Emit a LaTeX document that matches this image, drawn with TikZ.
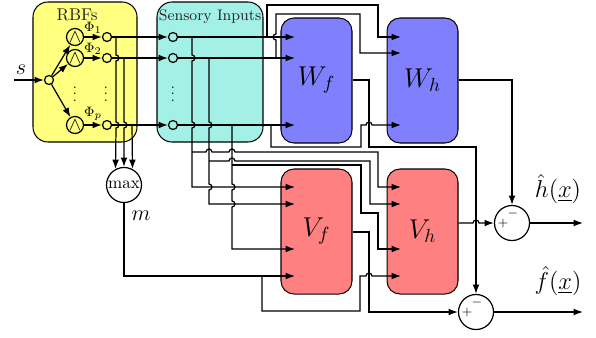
\RequirePackage{fix-cm}
\documentclass[tikz,border=0pt]{standalone}
\usetikzlibrary{arrows.meta}
\definecolor{rbfyel}{RGB}{255,255,128}
\definecolor{senscy}{RGB}{163,240,230}
\definecolor{wblue}{RGB}{128,128,255}
\definecolor{vred}{RGB}{255,128,128}
\begin{document}
\begin{tikzpicture}[x=0.58824pt,y=-0.58824pt, line width=0.72pt,
  >={Latex[length=5.5pt,width=4pt]},
  panel/.style={draw, line width=0.6pt, rounded corners=8.8pt, inner sep=0pt},
  block/.style={draw, line width=0.6pt, rounded corners=7.6pt, minimum width=41.76pt, minimum height=73.53pt, inner sep=0pt, font=\fontsize{16}{16}\selectfont},
  smallc/.style={circle, draw, minimum size=5.3pt, inner sep=0pt},
  lamc/.style={circle, draw, minimum size=10pt, inner sep=0pt, font=\fontsize{11}{11}\selectfont},
  bigc/.style={circle, draw, minimum size=20.6pt, inner sep=0pt},
  lbl/.style={inner sep=0pt},
  philbl/.style={inner sep=0pt, font=\fontsize{8}{8}\selectfont},
  sgn/.style={inner sep=0pt, font=\fontsize{7}{7}\selectfont},
  vdot/.style={inner sep=0pt, font=\fontsize{8}{8}\selectfont}
]
\useasboundingbox (0,0) rectangle (596,337);

% panels
\node[panel, fill=rbfyel, minimum width=61.18pt, minimum height=82.35pt] (rbf) at (85,72) {};
\node[panel, fill=senscy, minimum width=62.35pt, minimum height=82.35pt] (sens) at (210,72) {};
\node[lbl, text=black!85, font=\fontsize{10}{10}\selectfont] (rbft) at (77,15) {RBFs};
\node[lbl, text=black!85, font=\fontsize{9}{9}\selectfont] (senst) at (210,17) {Sensory Inputs};

% blocks
\node[block, fill=wblue] (Wf) at (316.5,80.5) {$W_f$};
\node[block, fill=wblue] (Wh) at (422.5,80.5) {$W_h$};
\node[block, fill=vred] (Vf) at (316.5,231.5) {$V_f$};
\node[block, fill=vred] (Vh) at (422.5,231.5) {$V_h$};

% circles
\node[smallc] (sn) at (49,80) {};
\node[lamc] (l1) at (75,37) {$\wedge$};
\node[lamc] (l2) at (75,58) {$\wedge$};
\node[lamc] (l3) at (75,125) {$\wedge$};
\node[smallc] (o1) at (107,37) {};
\node[smallc] (o2) at (107,58) {};
\node[smallc] (o3) at (107,125) {};
\node[smallc] (i1) at (173,37) {};
\node[smallc] (i2) at (173,58) {};
\node[smallc] (i3) at (173,125) {};
\node[bigc, font=\fontsize{10}{10}\selectfont] (mx) at (124,185) {max};
\node[bigc] (hs) at (512,223) {};
\node[bigc] (fs) at (476,312) {};
\node[sgn] (hsp) at (503,224) {$+$};
\node[sgn] (hsm) at (513,214) {$-$};
\node[sgn] (fsp) at (467,313) {$+$};
\node[sgn] (fsm) at (477,303) {$-$};

% labels
\node[philbl] (p1) at (93,28) {$\Phi_1$};
\node[philbl] (p2) at (93,49) {$\Phi_2$};
\node[philbl] (pp) at (93,114) {$\Phi_p$};
\node[vdot] (d1) at (75,89) {$\vdots$};
\node[vdot] (d2) at (106,89) {$\vdots$};
\node[vdot] (d3) at (173,89) {$\vdots$};
\node[lbl, font=\fontsize{13}{13}\selectfont] (slbl) at (21,70) {$s$};
\node[lbl, font=\fontsize{13}{13}\selectfont] (mlbl) at (141,216) {$m$};
\node[lbl, font=\fontsize{14.4}{14.4}\selectfont] (hlbl) at (558,189) {$\hat{h}(\underline{x})$};
\node[lbl, font=\fontsize{14.4}{14.4}\selectfont] (flbl) at (558,281) {$\hat{f}(\underline{x})$};

% port coordinates
\coordinate (sin) at (14,80);
\coordinate (wf1) at (295,37);
\coordinate (wf2) at (295,58);
\coordinate (wf3) at (295,125);
\coordinate (wh1) at (401,37);
\coordinate (wh2) at (401,53);
\coordinate (wh3) at (401,125);
\coordinate (vf1) at (295,187);
\coordinate (vf2) at (295,204);
\coordinate (vf3) at (295,249);
\coordinate (vf4) at (295,276);
\coordinate (vh1) at (401,187);
\coordinate (vh2) at (401,204);
\coordinate (vh3) at (401,249);
\coordinate (vh4) at (401,276);
\coordinate (hout) at (583,223);
\coordinate (fout) at (583,312);

% RBF part
\draw[->] (sin) -- (sn);
\draw[->] (sn) -- (l1);
\draw[->] (sn) -- (l2);
\draw[->] (sn) -- (l3);
\draw[->] (l1) -- (o1);
\draw[->] (l2) -- (o2);
\draw[->] (l3) -- (o3);
\draw[->] (o1) -- (i1);
\draw[->] (o2) -- (i2);
\draw[->] (o3) -- (i3);
\draw[->] (116,37) -- (116,55) arc[start angle=90,end angle=-90,radius=1.76pt] -- (116,122) arc[start angle=90,end angle=-90,radius=1.76pt] -- (mx.118);
\draw[->] (124,58) -- (124,122) arc[start angle=90,end angle=-90,radius=1.76pt] -- (mx.90);
\draw[->] (132,125) -- (mx.62);

% sensory to W
\draw[->] (i1) -- (wf1);
\draw[->] (i2) -- (wf2);
\draw[->] (i3) -- (wf3);
\draw[->] (267,37) -- (267,5) -- (378,5) -- (378,37) -- (wh1);
\draw[->] (276,58) -- (276,40) arc[start angle=-90,end angle=-270,radius=1.76pt] -- (276,14) -- (360,14) -- (360,53) -- (wh2);
\draw[->] (271,125) -- (271,147) -- (361,147) -- (361,125) -- (366,125) arc[start angle=180,end angle=0,radius=1.76pt] -- (wh3);

% sensory verticals to V
\draw[->] (192,37) -- (192,55) arc[start angle=90,end angle=-90,radius=1.76pt] -- (192,122) arc[start angle=90,end angle=-90,radius=1.76pt] -- (192,187) -- (vf1);
\draw[->] (192,152) -- (206,152) arc[start angle=180,end angle=0,radius=1.76pt] -- (229,152) arc[start angle=180,end angle=0,radius=1.76pt] -- (378,152) -- (378,187) -- (vh1);
\draw[->] (209,58) -- (209,122) arc[start angle=90,end angle=-90,radius=1.76pt] -- (209,184) arc[start angle=90,end angle=-90,radius=1.76pt] -- (209,204) -- (vf2);
\draw[->] (209,161) -- (229,161) arc[start angle=180,end angle=0,radius=1.76pt] -- (370,161) -- (370,204) -- (vh2);
\draw[->] (232,125) -- (232,184) arc[start angle=90,end angle=-90,radius=1.76pt] -- (232,201) arc[start angle=90,end angle=-90,radius=1.76pt] -- (232,249) -- (vf3);
\draw[->] (232,165) -- (361,165) -- (361,213) -- (378,213) -- (378,249) -- (vh3);

% m
\draw[->] (mx) -- (124,276) -- (vf4);
\draw[->] (262,276) -- (262,311) -- (360,311) -- (360,276) -- (366,276) arc[start angle=180,end angle=0,radius=1.76pt] -- (vh4);

% outputs
\draw[->] (Wf.east |- 0,80) -- (369,80) -- (369,147) -- (476,147) -- (fs);
\draw[->] (Wh.east |- 0,80) -- (512,80) -- (hs);
\draw[->] (Vh.east |- 0,223) -- (473,223) arc[start angle=180,end angle=0,radius=1.76pt] -- (hs);
\draw[->] (Vf.east |- 0,232) -- (369,232) -- (369,312) -- (fs);
\draw[->] (hs) -- (hout);
\draw[->] (fs) -- (fout);
\end{tikzpicture}
\end{document}
